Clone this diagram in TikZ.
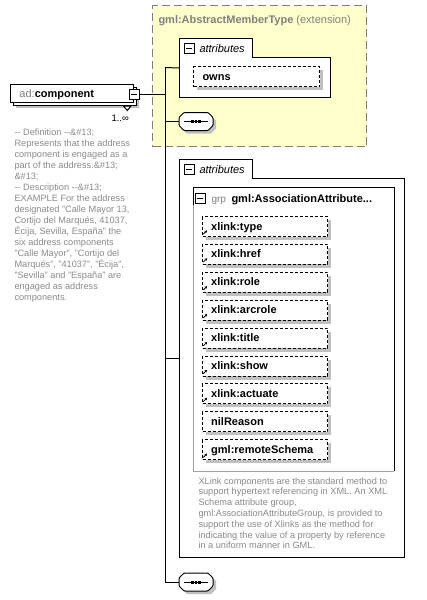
\documentclass[tikz,border=0pt]{standalone}
\usepackage{fontspec}
\setmainfont{Liberation Sans}
\usetikzlibrary{arrows.meta}
\definecolor{extfill}{HTML}{FFFFCC}
\definecolor{shadowgray}{HTML}{C0C0C0}
\definecolor{txtgray}{HTML}{808080}
\definecolor{descgray}{HTML}{8A8A8A}
\definecolor{grpgray}{HTML}{A0A0A0}
\begin{document}
\begin{tikzpicture}[x=1pt,y=-1pt,line width=1pt,
  lbl/.style={font=\fontsize{11}{13}\selectfont\bfseries, inner sep=0, anchor=base west},
  plain/.style={font=\fontsize{11}{13}\selectfont, inner sep=0, anchor=base west},
  desc/.style={font=\fontsize{9.2}{11}\selectfont, text=descgray, inner sep=0, anchor=base west},
  minusbox/.style={draw, fill=white, minimum size=10pt, inner sep=0, line width=1pt,
    path picture={\draw[line width=1pt] ([xshift=2pt]path picture bounding box.west) -- ([xshift=-2pt]path picture bounding box.east);}},
  attrbox/.style={draw, dash pattern=on 3pt off 2pt, fill=white, minimum width=125pt, minimum height=20pt, inner sep=0, anchor=north west},
  seqslot/.style={minimum width=34pt, minimum height=18pt, inner sep=0},
]
\useasboundingbox (0,0) rectangle (427,600);

% ---------- extension box ----------
\node[draw=txtgray, dash pattern=on 8pt off 4pt, fill=extfill, anchor=north west,
      minimum width=214pt, minimum height=141pt, inner sep=0] (ext) at (152,5) {};
\node[plain, text=txtgray] (exttitle) at (158,23) {\textbf{gml:AbstractMemberType} (extension)};

% ---------- component ----------
\fill[shadowgray] (16,90) rectangle (139,108);
\draw[fill=white] (13,87) rectangle (136,105);
\node[draw, fill=white, anchor=north west, minimum width=123pt, minimum height=18pt, inner sep=0] (comp) at (10,84) {};
\node[plain] (complbl) at (19,97.7) {\textcolor{txtgray}{ad:}\textbf{component}};
\draw[fill=white] (123.5,106) -- (131,106) -- (127.25,110.5) -- cycle;
\node[minusbox] (compminus) at (134,94.5) {};
\node[font=\fontsize{9.5}{11}\selectfont, inner sep=0, anchor=base west] (mult) at (111,121) {1..∞};

\foreach \t [count=\i from 0] in {
  {-{}- Definition -{}-\&\#13;},
  {Represents that the address},
  {component is engaged as a},
  {part of the address.\&\#13;},
  {\&\#13;},
  {-{}- Description -{}-\&\#13;},
  {EXAMPLE For the address},
  {designated "Calle Mayor 13,},
  {Cortijo del Marqués, 41037,},
  {Écija, Sevilla, España" the},
  {six address components},
  {"Calle Mayor", "Cortijo del},
  {Marqués", "41037", "Écija",},
  {"Sevilla" and "España" are},
  {engaged as address},
  {components.}} {
  \node[desc] (cdesc\i) at (14,135+11*\i) {\t};
}

% ---------- top attributes ----------
\node[inner sep=0, minimum width=151pt, minimum height=59pt, anchor=north west] (attrsA) at (179,38) {};
\draw[fill=white] (179,38) -- (252,38) -- (252,57) -- (330,57) -- (330,97) -- (179,97) -- cycle;
\node[minusbox] (minusA) at (189,48) {};
\node[plain, font=\fontsize{11}{13}\selectfont\itshape] (attrsAlbl) at (199,52) {attributes};
\fill[shadowgray] (197,70) rectangle (323,90);
\node[attrbox, minimum width=126pt] (owns) at (193,66) {};
\node[lbl] (ownslbl) at (202,80) {owns};

% ---------- sequence symbols ----------
\node[seqslot] (seqA) at (196,121.5) {};
\node[seqslot] (seqB) at (196,582) {};
\foreach \s in {seqA,seqB} {
  \begin{scope}[shift={(\s.center)}]
    \fill[shadowgray, shift={(3,3)}] (-12,-9) -- (12,-9) -- (17,-4) -- (17,4) -- (12,9) -- (-12,9) -- (-17,4) -- (-17,-4) -- cycle;
    \draw[fill=white, rounded corners=1pt] (-12,-9) -- (12,-9) -- (17,-4) -- (17,4) -- (12,9) -- (-12,9) -- (-17,4) -- (-17,-4) -- cycle;
    \draw (-12,0) -- (12,0);
    \fill (-5,-1.5) rectangle (-2.2,1.5);
    \fill (-1.4,-1.5) rectangle (1.4,1.5);
    \fill (2.2,-1.5) rectangle (5,1.5);
  \end{scope}
}

% ---------- lower attributes ----------
\node[inner sep=0, minimum width=225pt, minimum height=398pt, anchor=north west] (attrsB) at (179,159) {};
\draw[fill=white] (179,159) -- (252,159) -- (252,178) -- (404,178) -- (404,557) -- (179,557) -- cycle;
\node[minusbox] (minusB) at (189,169) {};
\node[plain, font=\fontsize{11}{13}\selectfont\itshape] (attrsBlbl) at (199,173) {attributes};

% group box
\node[inner sep=0, minimum width=201pt, minimum height=284pt, anchor=north west] (grp) at (193,187) {};
\draw[grpgray] (193,205) -- (193,471) -- (394,471);
\draw (193,205) -- (193,187) -- (394,187) -- (394,471);
\node[minusbox] (minusG) at (200,198) {};
\node[plain, font=\fontsize{10}{12}\selectfont, text=txtgray] (grptag) at (211,202.3) {grp};
\node[lbl] (grplbl) at (231,202.3) {gml:AssociationAttribute...};

\foreach \t/\a [count=\i from 0] in {xlink:type/1, xlink:href/1, xlink:role/1, xlink:arcrole/1,
    xlink:title/1, xlink:show/1, xlink:actuate/1, nilReason/0, gml:remoteSchema/1} {
  \pgfmathsetmacro\yy{216+27.9*\i}
  \fill[shadowgray] (206,\yy+4) rectangle (331,\yy+24);
  \node[attrbox] (att\i) at (202,\yy) {};
  \node[lbl] (attl\i) at (210.7,\yy+14) {\t};
  \ifnum\a=1
    \draw[-{Stealth[length=2.6pt,width=2.6pt]}, line width=0.8pt] (203.3,\yy+18.2) -- (207.2,\yy+14.3);
  \fi
}

\foreach \t [count=\i from 0] in {
  {XLink components are the standard method to},
  {support hypertext referencing in XML. An XML},
  {Schema attribute group,},
  {gml:AssociationAttributeGroup, is provided to},
  {support the use of Xlinks as the method for},
  {indicating the value of a property by reference},
  {in a uniform manner in GML.}} {
  \node[desc] (gdesc\i) at (198,484+10.8*\i) {\t};
}

% ---------- connectors ----------
\coordinate (trunkTop) at (165,67.5);
\coordinate (trunkBot) at (165,582);
\draw (compminus.east) -- (compminus.east -| trunkTop);
\draw (trunkTop) -- (trunkBot);
\draw (trunkTop) -- (attrsA.west);
\draw (seqA.west -| trunkTop) -- (seqA.west);
\draw (attrsB.west -| trunkTop) -- (attrsB.west);
\draw (trunkBot) -- (seqB.west);
\end{tikzpicture}
\end{document}
